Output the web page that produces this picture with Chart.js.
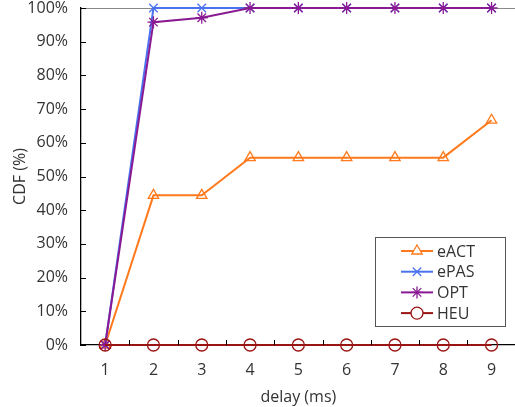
<!DOCTYPE html>
<html><head><meta charset="utf-8">
<script src="https://cdn.jsdelivr.net/npm/chart.js@4"></script>
<style>html,body{margin:0;padding:0;background:#fff;overflow:hidden}canvas{display:block}</style>
</head><body>
<canvas id="c" width="523" height="407"></canvas>
<script>
const categories = ['1','2','3','4','5','6','7','8','9'];
const eACT = [0, 44.4, 44.4, 55.6, 55.6, 55.6, 55.6, 55.6, 66.7];
const ePAS = [0, 100, 100, 100, 100, 100, 100, 100, 100];
const OPT  = [0, 95.8, 97.1, 100, 100, 100, 100, 100, 100];
const HEU  = [0, 0, 0, 0, 0, 0, 0, 0, 0];
const yTicks = [0,10,20,30,40,50,60,70,80,90,100];

const FONT = '"Open Sans", Lato, sans-serif';
const TXT = '#333';
const FS = 16;

function ds(label, data, color, style, order){
  return {label, data, borderColor: color, backgroundColor: 'rgba(0,0,0,0)',
    pointStyle: style, pointRadius: 6, pointBorderWidth: 1.3, pointBorderColor: color,
    pointBackgroundColor: 'rgba(0,0,0,0)', borderWidth: 2, tension: 0, clip: false, order};
}

const datasets = [
  ds('eACT', eACT, '#ff7a1c', 'triangle', 4),
  ds('ePAS', ePAS, '#4a72f0', 'crossRot', 3),
  ds('OPT', OPT, '#8a1a94', 'star', 2),
  ds('HEU', HEU, '#9b1414', 'circle', 1)
];

const decor = {
  id: 'decor',
  afterDatasetsDraw(chart){
    const ctx = chart.ctx, x = chart.scales.x, y = chart.scales.y;
    const a = chart.chartArea;
    ctx.save();
    ctx.strokeStyle = '#000'; ctx.lineWidth = 1;
    for (let k = 1; k < categories.length; k++){
      const px = Math.round((x.getPixelForValue(k-1) + x.getPixelForValue(k))/2) + 0.5;
      ctx.beginPath(); ctx.moveTo(px, a.bottom); ctx.lineTo(px, a.bottom - 5); ctx.stroke();
    }
    yTicks.forEach(v => {
      const py = Math.round(y.getPixelForValue(v)) + 0.5;
      ctx.beginPath(); ctx.moveTo(a.left, py); ctx.lineTo(a.left + 5, py); ctx.stroke();
    });
    ctx.restore();
  },
  afterDraw(chart){
    const ctx = chart.ctx;
    const bx = 375, by = 237, bw = 130, bh = 89;
    ctx.save();
    ctx.fillStyle = '#fff'; ctx.fillRect(bx, by, bw, bh);
    ctx.strokeStyle = '#555'; ctx.lineWidth = 1;
    ctx.strokeRect(bx + 0.5, by + 0.5, bw, bh);
    ctx.font = FS + 'px ' + FONT; ctx.textBaseline = 'middle';
    chart.data.datasets.forEach((d, i) => {
      const cy = 251 + i * 20.7;
      ctx.strokeStyle = d.borderColor; ctx.lineWidth = 2;
      ctx.beginPath(); ctx.moveTo(401, cy); ctx.lineTo(433, cy); ctx.stroke();
      ctx.lineWidth = 1.3;
      ctx.fillStyle = '#fff';
      if (d.pointStyle !== 'circle' && d.pointStyle !== 'triangle') ctx.fillStyle = 'rgba(0,0,0,0)';
      Chart.helpers.drawPoint(ctx, {pointStyle: d.pointStyle, radius: 6, rotation: 0, borderWidth: 1.3}, 417, cy);
      ctx.fillStyle = TXT;
      ctx.fillText(d.label, 437, cy + 1);
    });
    ctx.restore();
  }
};

new Chart(document.getElementById('c'), {
  type: 'line',
  data: { labels: categories, datasets },
  options: {
    responsive: false, animation: false,
    layout: { padding: { top: 8, right: 0, left: 0, bottom: 0 } },
    plugins: { legend: { display: false }, tooltip: { enabled: false } },
    scales: {
      x: {
        offset: true,
        grid: { display: false, offset: true },
        border: { color: '#000', width: 1.3 },
        ticks: { color: TXT, font: { family: FONT, size: FS }, padding: 8, maxRotation: 0 },
        title: { display: true, text: 'delay (ms)', color: TXT, font: { family: FONT, size: FS }, padding: { top: 0, bottom: 0 } },
        afterFit(s){ s.height = 62; s.paddingLeft = 0; s.paddingRight = 0; }
      },
      y: {
        min: 0, max: 100,
        afterBuildTicks(s){ s.ticks = yTicks.map(v => ({value: v})); },
        grid: { drawTicks: false, color: ctx => ctx.tick && ctx.tick.value === 100 ? '#888' : 'rgba(0,0,0,0)' },
        border: { color: '#000', width: 1.3 },
        ticks: { color: TXT, font: { family: FONT, size: FS }, padding: 13, callback: v => v + '%' },
        title: { display: true, text: 'CDF (%)', color: TXT, font: { family: FONT, size: FS }, padding: { top: 11, bottom: 0 } },
        afterFit(s){ s.width = 81; s.paddingTop = 0; s.paddingBottom = 0; }
      }
    }
  },
  plugins: [decor]
});
</script>
</body></html>
